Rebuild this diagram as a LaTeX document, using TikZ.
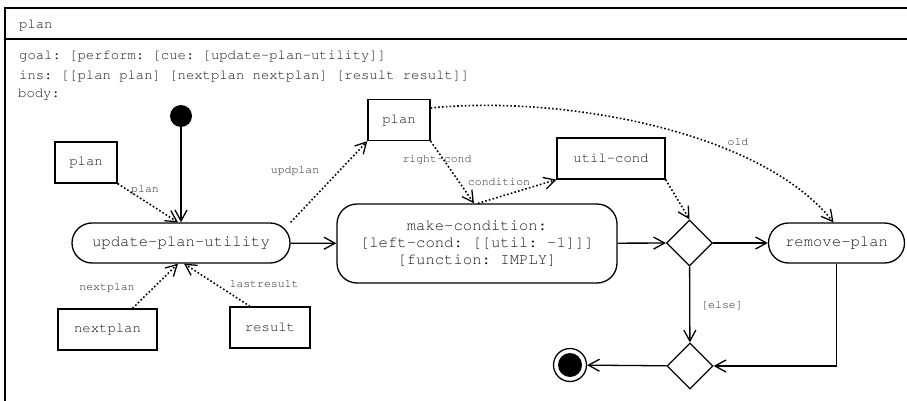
\documentclass[tikz,border=0pt]{standalone}
\usepackage[T1]{fontenc}
\renewcommand{\ttdefault}{pcr}
\frenchspacing
\usetikzlibrary{arrows.meta,shapes.geometric}

\begin{document}
\begin{tikzpicture}[x=1pt,y=-1pt,
    every node/.style={text=black!90},
    hdr/.style={anchor=west, inner sep=0pt, font=\fontsize{13.9}{16}\selectfont\ttfamily},
    obj/.style={draw=black, line width=1.3pt, minimum height=41pt, inner sep=0pt, font=\fontsize{13.9}{16}\selectfont\ttfamily},
    act/.style={draw=black, line width=1.3pt, rounded corners=20pt, minimum height=40pt, inner sep=0pt, align=center, font=\fontsize{15.6}{17}\selectfont\ttfamily},
    choice/.style={draw=black, diamond, line width=1.3pt, minimum width=46pt, minimum height=46pt, inner sep=0pt},
    flow/.style={line width=1.3pt, -{Straight Barb[length=11pt,width=12pt,line width=1.3pt]}},
    data/.style={flow, line width=1.6pt, dash pattern=on 1.6pt off 2.2pt},
    lbl/.style={inner sep=0pt, text=black!85, font=\fontsize{11.5}{13}\selectfont\ttfamily}]

    \useasboundingbox (0,0) rectangle (907,401);

    % frame
    \draw[line width=1.3pt] (907,8) -- (5,8) -- (5,401);
    \draw[line width=1.3pt] (5,39) -- (907,39);
    \node[hdr] (title) at (19,25) {plan};
    \node[hdr] (goal) at (19,56) {goal: [perform: [cue: [update-plan-utility]]};
    \node[hdr] (ins) at (19,76) {ins: [[plan plan] [nextplan nextplan] [result result]]};
    \node[hdr] (body) at (18,94) {body:};

    % nodes
    \node[circle, fill=black, minimum size=22pt, inner sep=0pt] (start) at (181,116) {};
    \node[act, minimum width=218pt] (upu) at (181,243) {update-plan-utility};
    \node[obj, minimum width=62pt] (planA) at (86,162.5) {plan};
    \node[obj, minimum width=99pt] (nextplan) at (107.5,329.5) {nextplan};
    \node[obj, minimum width=80pt] (result) at (270,327.5) {result};
    \node[obj, minimum width=62pt] (planB) at (399,120) {plan};
    \node[obj, minimum width=108pt] (utilc) at (611,158.5) {util-cond};
    \node[act, minimum width=280pt, minimum height=79pt] (mkc) at (477,243.5)
        {make-condition:\\{}[left-cond: [[util: -1]]]\\{}[function: IMPLY]};
    \node[choice] (d1) at (689.5,243) {};
    \node[act, minimum width=136pt] (rp) at (836.5,243) {remove-plan};
    \node[choice] (d2) at (690,366) {};
    \node[circle, draw=black, line width=1.3pt, minimum size=33pt, inner sep=0pt] (stop) at (570,365) {};
    \fill (stop) circle (12pt);

    % labels
    \node[lbl] (lplan) at (145,190) {plan};
    \node[lbl] (lnext) at (107,288) {nextplan};
    \node[lbl] (lres) at (264,284) {lastresult};
    \node[lbl] (lupd) at (295,171) {updplan};
    \node[lbl] (lright) at (437,160) {right-cond};
    \node[lbl] (lcond) at (499,182) {condition};
    \node[lbl] (lold) at (738,142) {old};
    \node[lbl] (lelse) at (722,305) {[else]};

    % control flow
    \draw[flow] (start) -- (upu.north);
    \draw[flow] (upu) -- (mkc);
    \draw[flow] (mkc) -- (d1);
    \draw[flow] (d1) -- (rp);
    \draw[flow] (d1) -- (d2);
    \draw[flow] (rp.south) |- (d2.east);
    \draw[flow] (d2) -- (stop);

    % object flow
    \draw[data] (planA.south east) -- ([xshift=-3pt]upu.north);
    \draw[data] ([xshift=25pt]nextplan.north) -- ([xshift=-3pt]upu.south);
    \draw[data] ([xshift=-20pt]result.north) -- ([xshift=3pt]upu.south);
    \draw[data] (upu.north east) -- (planB.south west);
    \draw[data] (planB.south east) -- ([xshift=-3pt]mkc.north);
    \draw[data] ([xshift=1pt]mkc.north) -- (utilc.south west);
    \draw[data] (utilc.south east) -- (d1.north);
    \draw[data] ([yshift=12pt]planB.east) .. controls (560,95) and (760,130) .. ([xshift=-3pt]rp.north);
\end{tikzpicture}
\end{document}
